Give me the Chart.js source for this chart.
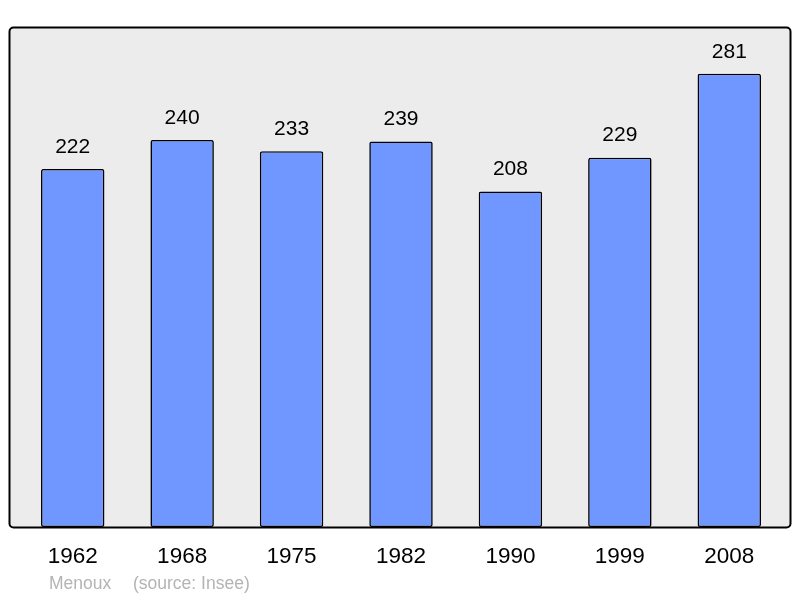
<!DOCTYPE html>
<html>
<head>
<meta charset="utf-8">
<script src="https://cdn.jsdelivr.net/npm/chart.js@4"></script>
<style>
  html, body { margin: 0; padding: 0; background: #fff; }
  #wrap { position: relative; width: 800px; height: 598px; }
</style>
</head>
<body>
<div id="wrap"><canvas id="chart" width="800" height="598"></canvas></div>
<script>
// Population de Menoux (source : Insee)
const years = ['1962', '1968', '1975', '1982', '1990', '1999', '2008'];
const population = [222, 240, 233, 239, 208, 229, 281];
const footerText = ['Menoux', '(source: Insee)'];

// fond gris + cadre arrondi autour de la zone du graphique
const framePlugin = {
    id: 'frame',
    beforeDraw(chart) {
        const { ctx, chartArea: a } = chart;
        const x0 = a.left - 9, x1 = a.right + 6;
        const y0 = a.top, y1 = a.bottom;
        ctx.save();
        ctx.beginPath();
        ctx.roundRect(x0 + 0.5, y0 + 0.5, x1 - x0, y1 - y0, 4);
        ctx.fillStyle = '#ececec';
        ctx.fill();
        ctx.lineWidth = 2;
        ctx.strokeStyle = '#000';
        ctx.stroke();
        ctx.restore();
    }
};

// valeurs au-dessus des barres + mention de la source
const labelPlugin = {
    id: 'labels',
    afterDatasetsDraw(chart) {
        const { ctx } = chart;
        const meta = chart.getDatasetMeta(0);
        ctx.save();
        ctx.font = '21px "Liberation Sans", Arial, sans-serif';
        ctx.fillStyle = '#000';
        ctx.textAlign = 'center';
        ctx.textBaseline = 'middle';
        meta.data.forEach((bar, i) => {
            ctx.fillText(population[i], bar.x, bar.y - 22);
        });
        ctx.font = '17.5px "Liberation Sans", Arial, sans-serif';
        ctx.fillStyle = '#b4b4b4';
        ctx.textAlign = 'left';
        ctx.fillText(footerText[0], 49, 584);
        ctx.fillText(footerText[1], 133, 584);
        ctx.restore();
    }
};

new Chart(document.getElementById('chart'), {
    type: 'bar',
    data: {
        labels: years,
        datasets: [{
            data: population,
            backgroundColor: '#7097ff',
            borderColor: '#000',
            borderWidth: 1.6,
            borderRadius: 2,
            borderSkipped: false,
            barPercentage: 0.58,
            categoryPercentage: 1
        }]
    },
    options: {
        responsive: false,
        animation: false,
        layout: { padding: { left: 18, right: 16, top: 27, bottom: 12 } },
        plugins: {
            legend: { display: false },
            tooltip: { enabled: false }
        },
        scales: {
            x: {
                grid: { display: false, drawTicks: false },
                border: { display: false },
                ticks: {
                    padding: 16,
                    color: '#000',
                    font: { family: '"Liberation Sans", Arial, sans-serif', size: 22.5 }
                }
            },
            y: {
                display: false,
                min: 0,
                max: 310
            }
        }
    },
    plugins: [framePlugin, labelPlugin]
});
</script>
</body>
</html>
